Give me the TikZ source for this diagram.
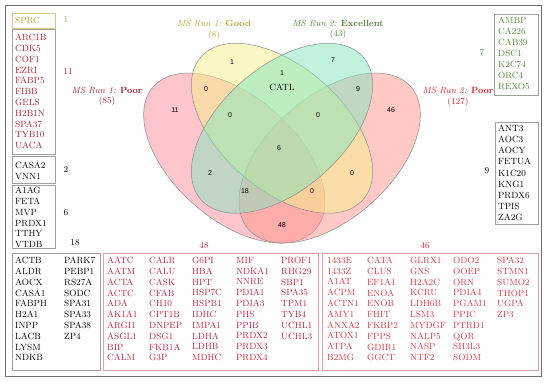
\documentclass[tikz,border=0pt]{standalone}
\usepackage{fontspec}
\setsansfont{Liberation Sans}
\definecolor{goodcol}{RGB}{196,164,52}
\definecolor{exccol}{RGB}{88,134,62}
\definecolor{poorAcol}{RGB}{170,32,52}
\definecolor{poorBcol}{RGB}{214,36,44}
\definecolor{listAcol}{RGB}{184,40,64}
\definecolor{listBcol}{RGB}{212,56,72}
\definecolor{framecol}{RGB}{110,110,110}
\definecolor{boxcol}{RGB}{160,160,160}
\definecolor{redboxcol}{RGB}{224,160,168}
\definecolor{fillgood}{RGB}{246,240,140}
\definecolor{fillexc}{RGB}{130,230,190}
\definecolor{fillpoorA}{RGB}{255,140,155}
\definecolor{fillpoorB}{RGB}{255,150,140}
\tikzset{
  setell/.style={draw=black!45, line width=0.5pt, fill opacity=0.5},
  regnum/.style={font=\sffamily\fontsize{7}{8}\selectfont, inner sep=0pt},
  settitle/.style={font=\fontsize{9}{10.5}\selectfont, align=center, inner sep=0pt},
  listbox/.style={draw=boxcol, line width=0.5pt},
  genes/.style={font=\fontsize{9}{10.8}\selectfont, align=left, anchor=north west, inner sep=0pt},
  sidenum/.style={font=\fontsize{9}{10}\selectfont, inner sep=0pt}
}

\begin{document}
\begin{tikzpicture}[x=1pt, y=-1pt]
\useasboundingbox (0,0) rectangle (550,383);
\fill[white] (0,0) rectangle (550,383);
\draw[framecol, line width=0.8pt] (5,5) rectangle (541,376);

\begin{scope}[shift={(282,243)}, xscale=318, yscale=-298]
  \filldraw[setell, fill=fillpoorA, rotate around={45:(-0.15,0.285)}] (-0.15,0.285) ellipse [x radius=0.35, y radius=0.2];
  \filldraw[setell, fill=fillpoorB, rotate around={-45:(0.15,0.285)}] (0.15,0.285) ellipse [x radius=0.35, y radius=0.2];
  \filldraw[setell, fill=fillgood, rotate around={45:(0,0.385)}] (0,0.385) ellipse [x radius=0.35, y radius=0.2];
  \filldraw[setell, fill=fillexc, rotate around={-45:(0,0.385)}] (0,0.385) ellipse [x radius=0.35, y radius=0.2];
\end{scope}

\node[settitle, text=goodcol] (tgood) at (214,30) {\textit{MS Run 1:} \textbf{Good}\\(8)};
\node[settitle, text=exccol] (texc) at (338,29.5) {\textit{MS Run 2:} \textbf{Excellent}\\(43)};
\node[settitle, text=poorAcol] (tpoorA) at (107,96.5) {\textit{MS Run 1:} \textbf{Poor}\\(85)};
\node[settitle, text=poorBcol] (tpoorB) at (458,97) {\textit{MS Run 2:} \textbf{Poor}\\(127)};

\node[regnum] (rG) at (232,62) {1};
\node[regnum] (rGE) at (282,73) {1};
\node[font=\fontsize{9}{10}\selectfont, inner sep=0pt] (catl) at (282,87) {CATL};
\node[regnum] (rE) at (333,60) {7};
\node[regnum] (rA) at (175,110) {11};
\node[regnum] (rAG) at (206,89) {0};
\node[regnum] (rAGE) at (230,115) {0};
\node[regnum] (rBE) at (358,89) {9};
\node[regnum] (rB) at (391,110) {46};
\node[regnum] (rBGE) at (318,115) {0};
\node[regnum] (rall) at (279,148) {6};
\node[regnum] (rAE) at (210,173) {2};
\node[regnum] (rABE) at (245,191) {18};
\node[regnum] (rABG) at (312,191) {0};
\node[regnum] (rBG) at (352,173) {0};
\node[regnum] (rAB) at (282,225) {48};

\draw[draw=goodcol!60] (12,13) rectangle (55,28);
\draw[listbox] (12,29) rectangle (55,154);
\draw[listbox] (12,156) rectangle (55,183);
\draw[listbox] (12,185) rectangle (55,248);
\node[genes, text=goodcol] (lG) at (15,17) {SPRC};
\node[genes, text=poorAcol] (lA) at (15,34) {ARC1B\\CDK5\\COF1\\EZRI\\FABP5\\FIBB\\GELS\\H2B1N\\SPA37\\TYB10\\UACA};
\node[genes] (lAE) at (15,162) {CASA2\\VNN1};
\node[genes] (lAB) at (15,187) {A1AG\\FETA\\MVP\\PRDX1\\TTHY\\VTDB};
\node[sidenum, text=goodcol] (nG) at (66,20) {1};
\node[sidenum, text=poorAcol] (nA) at (68,72) {11};
\node[sidenum] (nAE) at (66,170) {2};
\node[sidenum] (nAB) at (66,213) {6};
\node[sidenum] (nABE) at (75,243) {18};

\draw[listbox] (494,14) rectangle (538,95);
\draw[listbox] (495,122) rectangle (538,224);
\node[genes, text=exccol, font=\fontsize{9}{11}\selectfont] (lE) at (498,17) {AMBP\\CA226\\CAB39\\DSC1\\K2C74\\ORC4\\REXO5};
\node[genes, font=\fontsize{9}{11.1}\selectfont] (lBE) at (498,125) {ANT3\\AOC3\\AOCY\\FETUA\\K1C20\\KNG1\\PRDX6\\TPIS\\ZA2G};
\node[sidenum, text=exccol] (nE) at (482,53) {7};
\node[sidenum] (nBE) at (487,171) {9};

\draw[listbox] (12,253) rectangle (100,370);
\draw[draw=redboxcol] (103,253) rectangle (318,370);
\draw[draw=redboxcol] (322,253) rectangle (538,370);
\node[sidenum, text=listAcol] (nAB2) at (204,246) {48};
\node[sidenum, text=poorBcol] (nB) at (425,246) {46};

\node[genes] (lABEa) at (15,257) {ACTB\\ALDR\\AOCX\\CASA1\\FABPH\\H2A1\\INPP\\LACB\\LYSM\\NDKB};
\node[genes] (lABEb) at (64,257) {PARK7\\PEBP1\\RS27A\\SODC\\SPA31\\SPA33\\SPA38\\ZP4};

\node[genes, text=listAcol] (lABa) at (107,257) {AATC\\AATM\\ACTA\\ACTC\\ADA\\AK1A1\\ARGI1\\ASGL1\\BIP\\CALM};
\node[genes, text=listAcol] (lABb) at (149,257) {CALR\\CALU\\CASK\\CFAB\\CH10\\CPT1B\\DNPEP\\DSG1\\FKB1A\\G3P};
\node[genes, text=listAcol] (lABc) at (192,257) {G6PI\\HBA\\HPT\\HSP7C\\HSPB1\\IDHC\\IMPA1\\LDHA\\LDHB\\MDHC};
\node[genes, text=listAcol] (lABd) at (236,257) {MIF\\NDKA1\\NNRE\\PDIA1\\PDIA3\\PHS\\PPIB\\PRDX2\\PRDX3\\PRDX4};
\node[genes, text=listAcol] (lABe) at (281,257) {PROF1\\RHG29\\SBP1\\SPA35\\TPM1\\TYB4\\UCHL1\\UCHL3};

\node[genes, text=listBcol] (lBa) at (327,257) {1433E\\1433Z\\A1AT\\ACPM\\ACTN1\\AMY1\\ANXA2\\ATOX1\\ATPA\\B2MG};
\node[genes, text=listBcol] (lBb) at (367,257) {CATA\\CLUS\\EF1A1\\ENOA\\ENOB\\FHIT\\FKBP2\\FPPS\\GDIR1\\GGCT};
\node[genes, text=listBcol] (lBc) at (410,257) {GLRX1\\GNS\\H2A2C\\KCRU\\LDH6B\\LSM3\\MYDGF\\NALP5\\NASP\\NTF2};
\node[genes, text=listBcol] (lBd) at (453,257) {ODO2\\OOEP\\ORN\\PDIA4\\PGAM1\\PPIC\\PTRD1\\QOR\\SH3L3\\SODM};
\node[genes, text=listBcol] (lBe) at (497,257) {SPA32\\STMN1\\SUMO2\\THOP1\\UGPA\\ZP3};
\end{tikzpicture}
\end{document}
